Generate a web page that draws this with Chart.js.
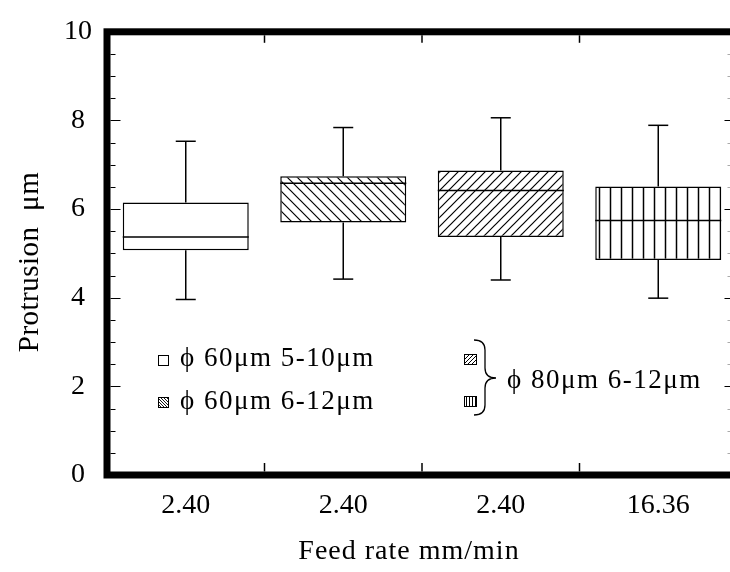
<!DOCTYPE html>
<html lang="en">
<head>
  <meta charset="UTF-8">
  <title>Protrusion vs feed rate</title>
  <style>
    html, body {
      margin: 0;
      padding: 0;
      background: #fff;
      overflow: hidden;
    }
    #wrap {
      width: 745px;
      height: 572px;
    }
  </style>
</head>
<body>
  <div id="wrap"><canvas id="chart" width="745" height="572"></canvas></div>

  <script src="https://cdn.jsdelivr.net/npm/chart.js"></script>
  <script>
    // Box plot data, one entry per grinding condition
    const feedRates = ["2.40", "2.40", "2.40", "16.36"];
    const whiskerLow = [3.96, 4.42, 4.40, 3.99];
    const quartile1 = [5.07, 5.70, 5.37, 4.85];
    const medians = [5.37, 6.58, 6.42, 5.74];
    const quartile3 = [6.15, 6.74, 6.87, 6.51];
    const whiskerHigh = [7.53, 7.84, 8.06, 7.89];
    const legendLabels = ["ϕ 60μm 5-10μm", "ϕ 60μm 6-12μm", "ϕ 80μm 6-12μm"];

    const SERIF = "'Liberation Serif', 'Times New Roman', serif";
    const canvas = document.getElementById("chart");
    const ctx = canvas.getContext("2d");

    // Hatch tiles: "back" = \\\, "fwd" = ///, "vert" = |||
    function hatch(kind, size, lw) {
      const c = document.createElement("canvas");
      c.width = size;
      c.height = size;
      const g = c.getContext("2d");
      g.fillStyle = "#fff";
      g.fillRect(0, 0, size, size);
      g.strokeStyle = "#000";
      g.lineWidth = lw;
      g.beginPath();
      if (kind === "back") {
        g.moveTo(-1, -1); g.lineTo(size + 1, size + 1);
        g.moveTo(-1, size - 1); g.lineTo(1, size + 1);
        g.moveTo(size - 1, -1); g.lineTo(size + 1, 1);
      } else if (kind === "fwd") {
        g.moveTo(-1, size + 1); g.lineTo(size + 1, -1);
        g.moveTo(-1, 1); g.lineTo(1, -1);
        g.moveTo(size - 1, size + 1); g.lineTo(size + 1, size - 1);
      } else {
        g.moveTo(size / 2, 0); g.lineTo(size / 2, size);
      }
      g.stroke();
      return ctx.createPattern(c, "repeat");
    }

    const boxFills = ["#fff", hatch("back", 10, 1.2), hatch("fwd", 9, 1.2), hatch("vert", 11, 1.5)];
    const keyFills = ["#fff", hatch("back", 3, 0.9), hatch("fwd", 4, 1), hatch("vert", 3, 1)];

    function line(x1, y1, x2, y2) {
      ctx.beginPath();
      ctx.moveTo(x1, y1);
      ctx.lineTo(x2, y2);
      ctx.stroke();
    }

    function keyBox(x, y, w, h, fill) {
      ctx.fillStyle = fill;
      ctx.fillRect(x, y, w, h);
      ctx.lineWidth = 1;
      ctx.strokeStyle = "#000";
      ctx.strokeRect(x + 0.5, y + 0.5, w, h);
    }

    function spacing(px) {
      if ("letterSpacing" in ctx) ctx.letterSpacing = px + "px";
    }

    // Medians, whiskers, frame, ticks, key and axis titles
    const boxPlotExtras = {
      id: "boxPlotExtras",
      afterDatasetsDraw(chart) {
        const a = chart.chartArea;
        const x = chart.scales.x;
        const y = chart.scales.y;
        const bars = chart.getDatasetMeta(0).data;

        ctx.save();
        ctx.strokeStyle = "#000";
        ctx.lineWidth = 1.5;

        bars.forEach((bar, i) => {
          const cx = bar.x;
          const half = bar.width / 2;
          const ym = y.getPixelForValue(medians[i]);
          line(cx - half, ym, cx + half, ym);

          const yq3 = y.getPixelForValue(quartile3[i]);
          const yHi = y.getPixelForValue(whiskerHigh[i]);
          line(cx, yq3, cx, yHi);
          line(cx - 10, yHi, cx + 10, yHi);

          const yq1 = y.getPixelForValue(quartile1[i]);
          const yLo = y.getPixelForValue(whiskerLow[i]);
          line(cx, yq1, cx, yLo);
          line(cx - 10, yLo, cx + 10, yLo);
        });

        // heavy frame
        ctx.lineWidth = 7;
        ctx.strokeRect(a.left, a.top, a.right - a.left, a.bottom - a.top);

        // inward ticks on left and right, every 0.5
        for (let v = 0.5; v < 10; v += 0.5) {
          const py = Math.round(y.getPixelForValue(v)) + 0.5;
          const major = v % 2 === 0;
          ctx.lineWidth = 1;
          ctx.strokeStyle = "#000";
          line(a.left + 3.5, py, a.left + 3.5 + (major ? 10 : 5), py);
          ctx.strokeStyle = major ? "#000" : "#aaa";
          line(a.right - 3.5, py, a.right - 3.5 - (major ? 9 : 6), py);
        }

        // category dividers on top and bottom
        ctx.strokeStyle = "#000";
        ctx.lineWidth = 1.5;
        for (let k = 1; k < feedRates.length; k++) {
          const px = (x.getPixelForValue(k - 1) + x.getPixelForValue(k)) / 2;
          line(px, a.top + 3.5, px, a.top + 11);
          line(px, a.bottom - 3.5, px, a.bottom - 12);
        }

        // key
        ctx.fillStyle = "#000";
        ctx.font = "27px " + SERIF;
        ctx.textBaseline = "middle";
        ctx.textAlign = "left";
        spacing(1.5);
        keyBox(158, 355, 10, 10, keyFills[0]);
        keyBox(158, 397, 10, 10, keyFills[1]);
        ctx.fillStyle = "#000";
        ctx.fillText(legendLabels[0], 180, 359);
        ctx.fillText(legendLabels[1], 180, 402);

        keyBox(464, 354, 12, 10, keyFills[2]);
        keyBox(464, 396, 12, 10, keyFills[3]);

        // brace grouping the two 80μm keys
        ctx.lineWidth = 1.3;
        ctx.strokeStyle = "#000";
        ctx.beginPath();
        ctx.moveTo(474, 340);
        ctx.quadraticCurveTo(485, 340, 485, 350);
        ctx.lineTo(485, 368);
        ctx.quadraticCurveTo(485, 378, 496, 378);
        ctx.quadraticCurveTo(485, 378, 485, 388);
        ctx.lineTo(485, 405);
        ctx.quadraticCurveTo(485, 415, 474, 415);
        ctx.stroke();
        ctx.fillStyle = "#000";
        ctx.fillText(legendLabels[2], 507, 381);

        // axis titles
        spacing(1);
        ctx.font = "28px " + SERIF;
        ctx.textAlign = "center";
        ctx.fillText("Feed rate mm/min", 409, 552);

        ctx.translate(30, 262);
        ctx.rotate(-Math.PI / 2);
        spacing(0.5);
        ctx.font = "29px " + SERIF;
        ctx.fillText("Protrusion  μm", 0, 0);
        ctx.restore();
      }
    };

    new Chart(ctx, {
      type: "bar",
      data: {
        labels: feedRates,
        datasets: [
          {
            data: quartile1.map((q, i) => [q, quartile3[i]]),
            backgroundColor: boxFills,
            borderColor: "#000",
            borderWidth: 1.5,
            borderSkipped: false,
            barPercentage: 0.8,
            categoryPercentage: 1.0,
          },
        ],
      },
      options: {
        responsive: false,
        animation: false,
        layout: {
          padding: { top: 20, right: 8, left: 0, bottom: 0 },
        },
        plugins: {
          legend: { display: false },
          tooltip: { enabled: false },
        },
        scales: {
          x: {
            grid: { display: false, drawTicks: false },
            border: { display: false },
            ticks: {
              font: { family: SERIF, size: 28 },
              color: "#000",
              padding: 14,
              maxRotation: 0,
              autoSkip: false,
            },
            afterFit(scale) {
              scale.height = 97;
            },
          },
          y: {
            min: 0,
            max: 10,
            grid: { display: false, drawTicks: false },
            border: { display: false },
            ticks: {
              stepSize: 2,
              font: { family: SERIF, size: 28 },
              color: "#000",
              padding: 15,
              crossAlign: "center",
            },
            afterFit(scale) {
              scale.width = 107;
            },
          },
        },
      },
      plugins: [boxPlotExtras],
    });
  </script>
</body>
</html>
